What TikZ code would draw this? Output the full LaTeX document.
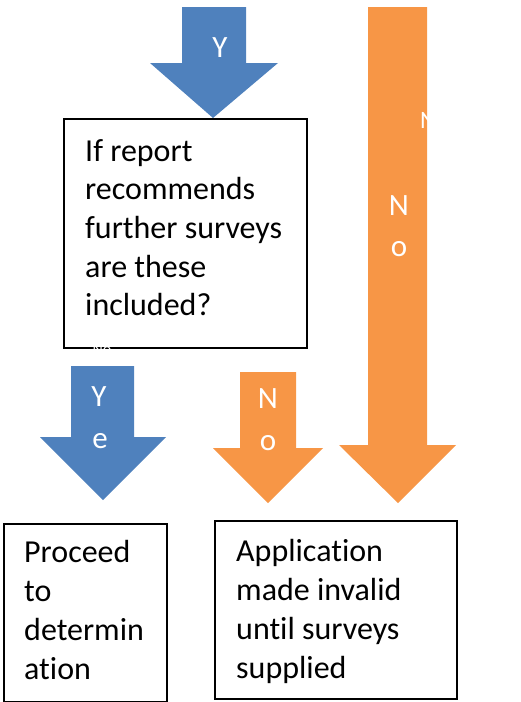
\documentclass[tikz,border=0pt]{standalone}
\usepackage{fontspec}
\setmainfont[Ligatures={NoCommon}]{Carlito}
\definecolor{ablue}{HTML}{4F81BD}
\definecolor{aorange}{HTML}{F79646}
\begin{document}
\begin{tikzpicture}[x=1pt,y=-1pt,
  boxframe/.style={draw=black,line width=2pt,fill=white},
  boxtext/.style={inner sep=0pt,anchor=base west,align=left,font=\fontsize{32}{38.7}\selectfont},
  arrowtext/.style={inner sep=0pt,anchor=base,text=white,font=\fontsize{31}{38}\selectfont},
  bluearrow/.style={fill=ablue},
  orangearrow/.style={fill=aorange}]
\useasboundingbox (0,0) rectangle (521,702);
% block arrows
\fill[bluearrow] (182,7) -- (246,7) -- (246,63) -- (278,63) -- (213,118) -- (150,63) -- (182,63) -- cycle;
\fill[orangearrow] (368,7) -- (427,7) -- (427,445) -- (456,445) -- (398,503) -- (339,445) -- (368,445) -- cycle;
\fill[orangearrow] (240,372) -- (296,372) -- (296,448) -- (323,448) -- (268,503) -- (213,448) -- (240,448) -- cycle;
\fill[bluearrow] (71,366) -- (134,366) -- (134,437) -- (166,437) -- (103,500) -- (40,437) -- (71,437) -- cycle;
% boxes
\node[boxframe,minimum width=243pt,minimum height=229pt,anchor=north west] (q) at (63,118) {};
\node[boxframe,minimum width=163pt,minimum height=178pt,anchor=north west] (p) at (3,523) {};
\node[boxframe,minimum width=242pt,minimum height=178pt,anchor=north west] (a) at (214,520) {};
% box texts (anchor = baseline of last line)
\node[boxtext] (qt) at (85,315.8) {If report\\recommends\\further surveys\\are these\\included?};
\node[boxtext] (pt) at (24,679) {Proceed\\to\\determin\\ation};
\node[boxtext] (at) at (236,678) {Application\\made invalid\\until surveys\\supplied};
% arrow labels
\node[arrowtext] (y1) at (220,57) {Y};
\node[arrowtext] (n1) at (399,215) {N};
\node[arrowtext] (o1) at (399,256) {o};
\node[arrowtext] (n2) at (268,408) {N};
\node[arrowtext] (o2) at (268,450) {o};
\node[arrowtext] (y2) at (99,406) {Y};
\node[arrowtext] (e2) at (100,448) {e};
\node[inner sep=0pt,anchor=base west,text=white,font=\fontsize{25}{30}\selectfont] (nc) at (420,128) {N};
\node[inner sep=0pt,anchor=base,text=white,font=\fontsize{16}{20}\selectfont] (hid) at (102,354) {No};
\end{tikzpicture}
\end{document}
